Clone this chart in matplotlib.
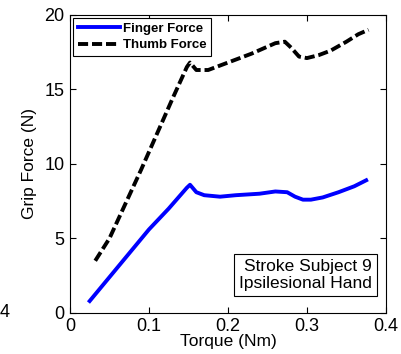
import matplotlib.pyplot as plt
import numpy as np

plt.rcParams['font.family'] = ['Liberation Sans', 'DejaVu Sans']

# Finger force vs torque
finger_torque = [0.025, 0.05, 0.075, 0.10, 0.125, 0.148, 0.152, 0.16, 0.17, 0.19, 0.21, 0.24,
                 0.26, 0.275, 0.285, 0.295, 0.305, 0.32, 0.34, 0.36, 0.375]
finger_force = [0.8, 2.4, 4.0, 5.6, 7.0, 8.4, 8.6, 8.1, 7.9, 7.8, 7.9, 8.0,
                8.15, 8.1, 7.8, 7.6, 7.6, 7.75, 8.1, 8.5, 8.9]

# Thumb force vs torque
thumb_torque = [0.032, 0.05, 0.07, 0.09, 0.11, 0.13, 0.148, 0.152, 0.16, 0.175, 0.20, 0.23,
                0.26, 0.272, 0.28, 0.29, 0.30, 0.315, 0.33, 0.35, 0.365, 0.378]
thumb_force = [3.5, 5.0, 7.3, 9.6, 12.0, 14.4, 16.5, 16.8, 16.3, 16.3, 16.8, 17.4,
               18.1, 18.2, 17.8, 17.2, 17.1, 17.3, 17.6, 18.2, 18.7, 19.0]

fig = plt.figure(figsize=(4.02, 3.54), dpi=100)
ax = fig.add_axes([0.174, 0.116, 0.786, 0.842])

ax.plot(finger_torque, finger_force, color='#0000ff', lw=2.8, label='Finger Force')
ax.plot(thumb_torque, thumb_force, color='black', lw=2.8, ls=(0, (2.6, 1.0)), label='Thumb Force')

ax.set_xlim(0, 0.4)
ax.set_ylim(0, 20)
ax.set_xticks([0, 0.1, 0.2, 0.3, 0.4])
ax.set_xticklabels(['0', '0.1', '0.2', '0.3', '0.4'])
ax.set_yticks([0, 5, 10, 15, 20])
ax.tick_params(direction='in', top=True, right=True, labelsize=13, length=4, pad=4)
ax.set_xlabel('Torque (Nm)', fontsize=12.5, labelpad=-1)
ax.set_ylabel('Grip Force (N)', fontsize=12.5, labelpad=5)

leg = ax.legend(loc='upper left', fancybox=False, edgecolor='black', framealpha=1,
                prop={'weight': 'bold', 'size': 9.5}, handlelength=3.2, handletextpad=0.2,
                borderaxespad=0.25, borderpad=0.35, labelspacing=0.3)
leg.get_frame().set_linewidth(0.8)

ax.text(0.955, 0.075, 'Stroke Subject 9\nIpsilesional Hand', transform=ax.transAxes,
        ha='right', va='bottom', fontsize=12.5, linespacing=1.15,
        bbox=dict(boxstyle='square,pad=0.3', fc='white', ec='black', lw=0.8))

# partial tick label from neighbouring panel
fig.text(0.0, 0.116, '4', fontsize=13, ha='left', va='center')

fig.savefig('out.png', dpi=100)
